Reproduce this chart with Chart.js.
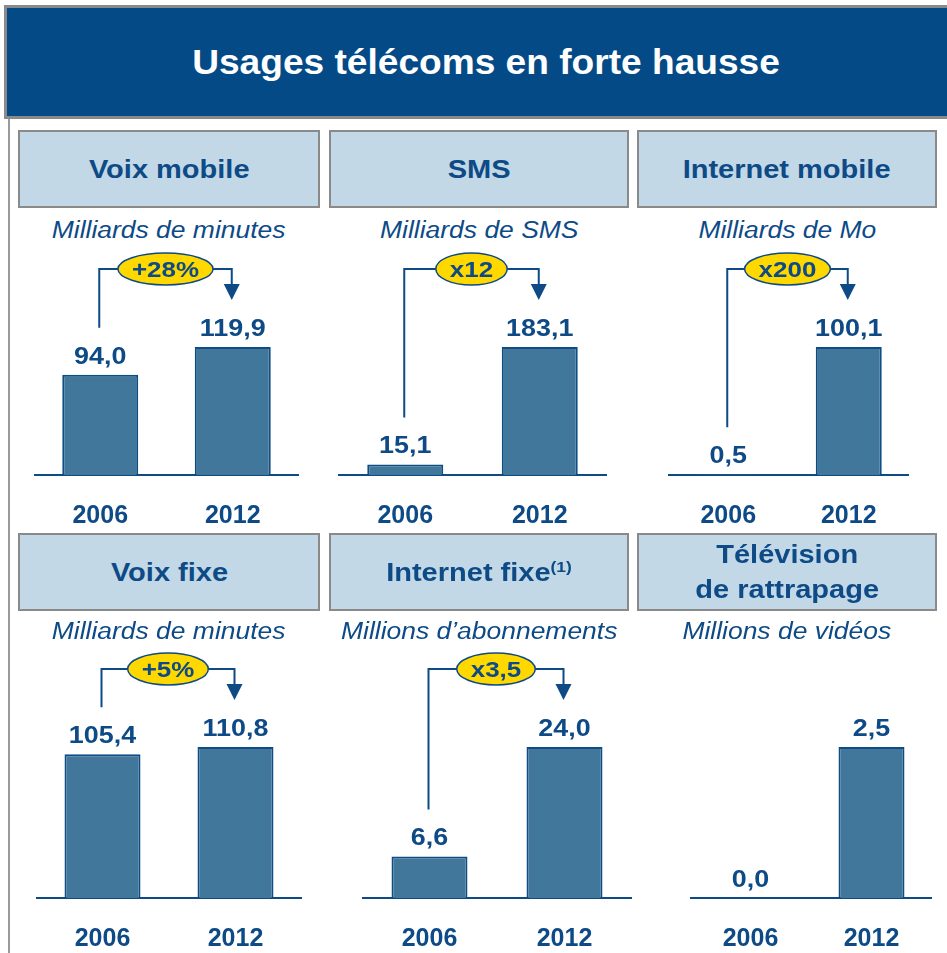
<!DOCTYPE html>
<html>
<head>
<meta charset="utf-8">
<script src="https://cdn.jsdelivr.net/npm/chart.js@4.4.1/dist/chart.umd.min.js"></script>
<style>
  body { margin: 0; width: 947px; height: 953px; overflow: hidden; background: #fff; position: relative;
         font-family: "Liberation Sans", Arial, sans-serif; }
  .abs { position: absolute; }
  #frame-left { left: 8px; top: 115px; width: 2px; height: 860px; background: #9a9a9a; }
  #title-bar { left: 4px; top: 5px; width: 1000px; height: 108px; background: #034a87;
               border: 3px solid #8a8a8a; border-right: none; }
  #title-bar span { position: absolute; left: 0; width: 958px; top: 0; line-height: 108px; text-align: center;
                    color: #fff; font-weight: bold; font-size: 35px; transform: scaleX(1.06); }
  .head { background: #c2d8e6; border: 2px solid #8a8a8a; box-sizing: border-box; color: #0d4a86;
          font-weight: bold; font-size: 25px; display: flex; align-items: center; justify-content: center;
          text-align: center; z-index: 2; }
  .head span { display: inline-block; transform: scaleX(1.16); }
  .head sup { font-size: 15px; vertical-align: 9px; line-height: 0; }
  .sub { height: 30px; line-height: 30px; text-align: center; color: #0d4a86; font-style: italic; font-size: 23px; z-index: 2; }
  .sub span { display: inline-block; transform: scaleX(1.15); }
  canvas { position: absolute; z-index: 1; }
</style>
</head>
<body>
<div id="frame-left" class="abs"></div>
<div id="title-bar" class="abs"><span>Usages télécoms en forte hausse</span></div>

<div class="abs head" style="left:18px;top:130px;width:302px;height:78px"><span>Voix mobile</span></div>
<div class="abs head" style="left:329px;top:130px;width:300px;height:78px"><span>SMS</span></div>
<div class="abs head" style="left:637px;top:130px;width:300px;height:78px"><span>Internet mobile</span></div>
<div class="abs head" style="left:18px;top:533px;width:302px;height:78px"><span>Voix fixe</span></div>
<div class="abs head" style="left:329px;top:533px;width:300px;height:78px"><span>Internet fixe<sup>(1)</sup></span></div>
<div class="abs head" style="left:637px;top:533px;width:300px;height:78px;line-height:35px"><span>Télévision<br>de rattrapage</span></div>

<div class="abs sub" style="left:18px;top:215px;width:302px"><span>Milliards de minutes</span></div>
<div class="abs sub" style="left:329px;top:215px;width:300px"><span>Milliards de SMS</span></div>
<div class="abs sub" style="left:637px;top:215px;width:300px"><span>Milliards de Mo</span></div>
<div class="abs sub" style="left:18px;top:616px;width:302px"><span>Milliards de minutes</span></div>
<div class="abs sub" style="left:329px;top:616px;width:300px"><span>Millions d’abonnements</span></div>
<div class="abs sub" style="left:637px;top:616px;width:300px"><span>Millions de vidéos</span></div>

<canvas id="c0"></canvas>
<canvas id="c1"></canvas>
<canvas id="c2"></canvas>
<canvas id="c3"></canvas>
<canvas id="c4"></canvas>
<canvas id="c5"></canvas>

<script>
// data
const years = ['2006', '2012'];
const voixMobile = [94.0, 119.9];
const sms = [15.1, 183.1];
const internetMobile = [0.5, 100.1];
const voixFixe = [105.4, 110.8];
const internetFixe = [6.6, 24.0];
const tvRattrapage = [0.0, 2.5];
const badges = ['+28%', 'x12', 'x200', '+5%', 'x3,5', null];

const BLUE = '#0d4a86';
const FONT = '"Liberation Sans", Arial, sans-serif';
const SX = 1.12;

// where each small chart sits: [left, top, width, height, bar width]
const boxes = [
    [34, 245, 265, 290, 76],
    [338, 245, 269, 290, 76],
    [668, 245, 241, 290, 66],
    [36, 645, 266, 313, 76],
    [362, 645, 270, 313, 76],
    [690, 645, 242, 313, 66]
];
const series = [voixMobile, sms, internetMobile, voixFixe, internetFixe, tvRattrapage];

function fmt(v) {
    return v.toFixed(1).replace('.', ',');
}

// value above each bar + arrow with yellow badge
const decoPlugin = {
    id: 'deco',
    afterDatasetsDraw(chart) {
        const ctx = chart.ctx;
        const meta = chart.getDatasetMeta(0);
        const values = chart.data.datasets[0].data;
        ctx.save();
        ctx.fillStyle = BLUE;
        ctx.font = 'bold 24px ' + FONT;
        ctx.textAlign = 'center';
        ctx.textBaseline = 'alphabetic';
        meta.data.forEach((bar, i) => {
            ctx.save();
            ctx.translate(bar.x, bar.y - 11);
            ctx.scale(SX, 1);
            ctx.fillText(fmt(values[i]), 0, 0);
            ctx.restore();
        });

        const badge = chart.options.plugins.deco.badge;
        if (badge) {
            const b0 = meta.data[0], b1 = meta.data[1];
            const x0 = b0.x - 1, x1 = b1.x - 1;
            const yTop = chart.chartArea.top - 78;
            const tip = b1.y - 47;
            ctx.strokeStyle = BLUE;
            ctx.lineWidth = 2;
            ctx.beginPath();
            ctx.moveTo(x0, b0.y - 47);
            ctx.lineTo(x0, yTop);
            ctx.lineTo(x1, yTop);
            ctx.lineTo(x1, tip - 15);
            ctx.stroke();
            ctx.beginPath();
            ctx.moveTo(x1 - 8, tip - 16);
            ctx.lineTo(x1 + 8, tip - 16);
            ctx.lineTo(x1, tip);
            ctx.closePath();
            ctx.fill();

            ctx.font = 'bold 22px ' + FONT;
            const tw = ctx.measureText(badge).width * 1.18;
            const cx = (x0 + x1) / 2;
            ctx.beginPath();
            ctx.ellipse(cx, yTop, tw / 2 + 14, 16, 0, 0, Math.PI * 2);
            ctx.fillStyle = '#ffd800';
            ctx.fill();
            ctx.lineWidth = 1.5;
            ctx.stroke();
            ctx.fillStyle = BLUE;
            ctx.save();
            ctx.translate(cx, yTop + 8);
            ctx.scale(1.18, 1);
            ctx.fillText(badge, 0, 0);
            ctx.restore();
        }
        ctx.restore();
    }
};

series.forEach((values, k) => {
    const [left, top, w, h, bw] = boxes[k];
    const canvas = document.getElementById('c' + k);
    canvas.width = w;
    canvas.height = h;
    canvas.style.left = left + 'px';
    canvas.style.top = top + 'px';
    const cat = w / 2;

    new Chart(canvas.getContext('2d'), {
        type: 'bar',
        data: {
            labels: years,
            datasets: [{
                data: values,
                backgroundColor: '#41779a',
                borderColor: '#0e4c82',
                borderWidth: 2,
                barPercentage: 1,
                categoryPercentage: bw / cat
            }]
        },
        options: {
            responsive: false,
            animation: false,
            layout: { padding: { top: 102, left: 0, right: 0, bottom: 0 } },
            plugins: {
                legend: { display: false },
                tooltip: { enabled: false },
                deco: { badge: badges[k] }
            },
            scales: {
                y: { display: false, min: 0, max: Math.max(...values) },
                x: {
                    offset: true,
                    grid: { display: false, drawTicks: false },
                    border: { display: true, color: BLUE, width: 2 },
                    ticks: { color: BLUE, padding: 26, font: { family: FONT, size: 25, weight: 'bold' } },
                    afterFit: (scale) => { scale.height = 60; }
                }
            }
        },
        plugins: [decoPlugin]
    });
});
</script>
</body>
</html>
